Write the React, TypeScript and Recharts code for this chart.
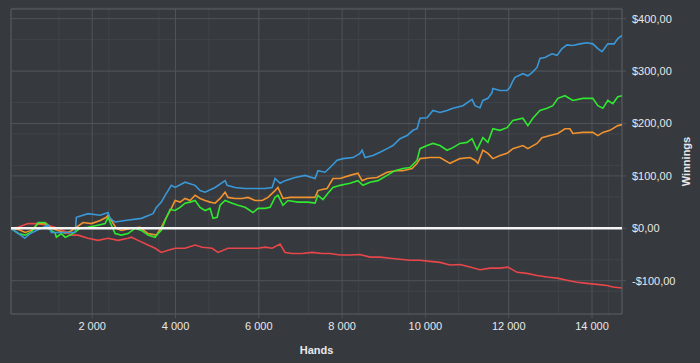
import { LineChart, Line, XAxis, YAxis, CartesianGrid, ReferenceLine, ReferenceArea } from 'recharts';

// hands / winnings, one pair of lists per player
const blueHands = [
  50, 200, 380, 510, 660, 940, 1020, 1230, 1590, 1620, 1900, 2190, 2380, 2430, 2550, 2790, 3180, 3460, 3540, 3660,
  3750, 3900, 3990, 4230, 4470, 4590, 4710, 4950, 5190, 5240, 5430, 5670, 6150, 6320, 6390, 6510, 6630, 6870, 7110, 7350,
  7420, 7590, 7710, 7880, 8020, 8260, 8430, 8480, 8550, 8740, 8910, 9080, 9220, 9390, 9560, 9700, 9800, 9870, 10040, 10180,
  10350, 10520, 10660, 10900, 11120, 11190, 11310, 11380, 11500, 11600, 11620, 11790, 11960, 12030, 12080, 12150, 12340, 12460, 12560, 12680,
  12750, 12870, 13040, 13160, 13280, 13400, 13540, 13710, 13880, 14020, 14140, 14240, 14380, 14530, 14620, 14720,
];
const blueWin = [
  0, -8, -19, -10, -4, 6, -8, -8, -8, 21, 28, 25, 30, 19, 12, 15, 19, 28, 40, 50,
  63, 82, 78, 88, 82, 72, 69, 78, 91, 82, 78, 76, 76, 78, 95, 86, 91, 97, 101, 95,
  110, 107, 116, 130, 133, 135, 143, 149, 135, 139, 145, 152, 158, 171, 177, 187, 190, 210, 211, 225,
  221, 225, 229, 234, 246, 234, 230, 244, 248, 259, 267, 263, 263, 269, 278, 288, 295, 291, 297, 307,
  324, 326, 333, 330, 343, 350, 349, 352, 354, 352, 343, 337, 352, 352, 362, 368,
];

const greenHands = [
  50, 220, 390, 540, 700, 870, 940, 1110, 1140, 1260, 1350, 1470, 1590, 1710, 1900, 2140, 2310, 2380, 2460, 2550,
  2700, 2860, 3030, 3180, 3340, 3510, 3580, 3660, 3750, 3870, 3990, 4110, 4230, 4350, 4470, 4590, 4710, 4830, 4900, 5000,
  5070, 5190, 5360, 5500, 5670, 5790, 5860, 5980, 6150, 6270, 6390, 6460, 6580, 6700, 6940, 7180, 7350, 7420, 7540, 7660,
  7780, 7950, 8190, 8380, 8500, 8670, 8860, 9080, 9270, 9460, 9630, 9800, 9870, 10040, 10180, 10350, 10520, 10660, 10830, 11000,
  11120, 11240, 11380, 11500, 11620, 11790, 11960, 12100, 12340, 12460, 12580, 12750, 12920, 13060, 13180, 13350, 13540, 13780, 14020, 14140,
  14260, 14380, 14500, 14620, 14720,
];
const greenWin = [
  0, -10, -13, -7, 11, 11, 0, -9, -17, -10, -17, -13, -7, 0, 2, 6, 9, 21, 6, -10,
  -13, -10, 0, -4, -13, -17, -10, -4, 15, 36, 34, 40, 48, 50, 53, 40, 34, 38, 19, 21,
  44, 53, 48, 44, 40, 34, 30, 38, 38, 40, 59, 63, 44, 53, 50, 50, 48, 63, 55, 67,
  78, 82, 86, 91, 82, 88, 91, 101, 110, 114, 116, 130, 152, 158, 162, 158, 149, 154, 162, 164,
  171, 150, 173, 164, 190, 187, 192, 206, 210, 196, 210, 225, 229, 234, 248, 253, 244, 248, 248, 234,
  229, 244, 238, 251, 253,
];

const orangeHands = [
  50, 220, 390, 540, 700, 900, 1020, 1180, 1350, 1470, 1620, 1780, 1980, 2190, 2340, 2380, 2460, 2580, 2700, 2940,
  3150, 3340, 3540, 3660, 3780, 3900, 3990, 4110, 4230, 4350, 4470, 4590, 4710, 4830, 4950, 5070, 5190, 5260, 5430, 5600,
  5740, 5910, 6080, 6220, 6390, 6460, 6580, 6750, 6940, 7180, 7350, 7420, 7520, 7640, 7780, 7950, 8190, 8380, 8480, 8600,
  8840, 9080, 9320, 9460, 9680, 9800, 9870, 10110, 10350, 10590, 10830, 11070, 11190, 11260, 11380, 11500, 11620, 11790, 11960, 12100,
  12340, 12460, 12680, 12800, 12990, 13180, 13350, 13470, 13540, 13780, 14020, 14140, 14260, 14430, 14620, 14720,
];
const orangeWin = [
  0, -2, -8, -4, 9, 9, 0, -4, -9, -6, 2, 11, 9, 15, 21, 25, 15, 0, -4, 0,
  2, -10, -13, 2, 21, 38, 53, 50, 57, 53, 63, 57, 53, 50, 48, 57, 69, 59, 57, 57,
  59, 53, 53, 59, 72, 78, 57, 59, 59, 59, 59, 72, 74, 76, 95, 95, 101, 105, 91, 95,
  97, 107, 110, 110, 114, 124, 133, 135, 135, 124, 133, 135, 130, 124, 149, 143, 133, 139, 143, 152,
  158, 152, 162, 173, 177, 181, 190, 190, 181, 183, 183, 177, 183, 187, 196, 198,
];

const redHands = [
  50, 220, 460, 700, 940, 1180, 1350, 1500, 1660, 1900, 2140, 2380, 2620, 2860, 2940, 3100, 3340, 3510, 3660, 3820,
  3990, 4230, 4470, 4640, 4880, 5020, 5260, 5500, 5740, 5980, 6150, 6320, 6510, 6630, 6800, 7040, 7280, 7520, 7710, 7950,
  8190, 8430, 8670, 8910, 9150, 9390, 9630, 9870, 10110, 10350, 10590, 10830, 11070, 11310, 11550, 11790, 11980, 12200, 12440, 12680,
  12920, 13160, 13400, 13640, 13880, 14120, 14360, 14500, 14720,
];
const redWin = [
  0, 2, 9, 9, 6, 0, -6, -13, -13, -19, -23, -19, -23, -19, -17, -23, -32, -38, -46, -42,
  -38, -38, -32, -36, -38, -46, -38, -38, -38, -38, -36, -38, -30, -46, -48, -48, -46, -48, -48, -51,
  -51, -50, -55, -55, -57, -59, -61, -61, -63, -65, -70, -69, -74, -79, -76, -76, -74, -84, -86, -90,
  -93, -95, -99, -103, -105, -107, -109, -112, -114,
];

const xTicks = [2000, 4000, 6000, 8000, 10000, 12000, 14000];
const yTicks = [-100, 0, 100, 200, 300, 400];

const toPoints = (xs: number[], ys: number[]) => xs.map((h, i) => ({ hands: h, win: ys[i] }));

const X_MIN = 50;
const X_MAX = 14720;
const Y_MIN = -163.5;
const Y_MAX = 418.5;

// minor grid every 400 hands / $20
const minorX = Array.from({ length: 36 }, (_, i) => (i + 1) * 400);
const minorY = Array.from({ length: 30 }, (_, i) => -160 + i * 20);

const BG = '#36393d';
const MINOR = '#404448';
const MAJOR = '#505458';
const TEXT = '#e8e8ea';
const FONT = '"Liberation Sans", Arial, sans-serif';

const fmtX = (v: number) => v.toLocaleString('en-US').replace(',', ' ');
const fmtY = (v: number) => (v < 0 ? '-$' : '$') + Math.abs(v) + ',00';

const series = [
  { name: 'red', color: '#e8464a', points: toPoints(redHands, redWin) },
  { name: 'orange', color: '#f0922f', points: toPoints(orangeHands, orangeWin) },
  { name: 'green', color: '#2fe82f', points: toPoints(greenHands, greenWin) },
  { name: 'blue', color: '#3a98d8', points: toPoints(blueHands, blueWin) },
];

export default function App() {
  return (
    <div style={{ position: 'fixed', left: 0, top: 0, width: 700, height: 363, background: BG }}>
      <LineChart width={700} height={363} margin={{ top: 9, right: 0, bottom: 0, left: 11 }}>
        <CartesianGrid fill={BG} stroke={MINOR} strokeWidth={1} horizontalValues={minorY} verticalValues={minorX} />
        <CartesianGrid stroke={MAJOR} strokeWidth={1} horizontalValues={yTicks} verticalValues={xTicks} fill="none" />
        <XAxis
          dataKey="hands"
          type="number"
          domain={[X_MIN, X_MAX]}
          ticks={xTicks}
          tickFormatter={fmtX}
          allowDataOverflow
          allowDuplicatedCategory={false}
          height={49}
          axisLine={false}
          tickLine={{ stroke: MAJOR }}
          tickSize={4}
          tickMargin={4}
          tick={{ fill: TEXT, fontSize: 11, fontFamily: FONT }}
          label={{
            content: () => (
              <text x={316.5} y={354} textAnchor="middle" fill={TEXT} fontSize={11} fontWeight="bold" fontFamily={FONT}>
                Hands
              </text>
            ),
          }}
        />
        <YAxis
          orientation="right"
          type="number"
          domain={[Y_MIN, Y_MAX]}
          ticks={yTicks}
          tickFormatter={fmtY}
          allowDataOverflow
          width={78}
          axisLine={false}
          tickLine={{ stroke: MAJOR }}
          tickSize={4}
          tickMargin={6}
          tick={{ fill: TEXT, fontSize: 11, fontFamily: FONT }}
          label={{
            content: () => (
              <text
                x={690}
                y={161.5}
                textAnchor="middle"
                fill={TEXT}
                fontSize={11}
                fontWeight="bold"
                fontFamily={FONT}
                transform="rotate(-90 690 161.5)"
              >
                Winnings
              </text>
            ),
          }}
        />
        <ReferenceArea x1={X_MIN} x2={X_MAX} y1={Y_MIN} y2={Y_MAX} fill="none" stroke="#5c6064" strokeWidth={1} />
        {series.map((s) => (
          <Line
            key={s.name}
            data={s.points}
            dataKey="win"
            name={s.name}
            type="linear"
            stroke={s.color}
            strokeWidth={1.6}
            dot={false}
            isAnimationActive={false}
          />
        ))}
        <ReferenceLine y={0} stroke="#f4f4f4" strokeWidth={2.5} />
      </LineChart>
    </div>
  );
}
